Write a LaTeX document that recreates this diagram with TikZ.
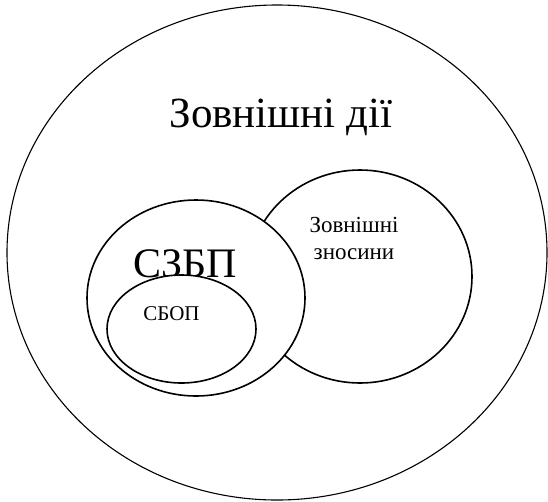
\documentclass[tikz,border=0pt]{standalone}
\usepackage{fontspec}
\setmainfont{Liberation Serif}
\usetikzlibrary{shapes.geometric}

\begin{document}
\begin{tikzpicture}[x=1pt,y=-1pt,
  zone/.style={draw,ellipse,fill=white,inner sep=0pt,line width=1.6pt}]
  \useasboundingbox (0,0) rectangle (548,501);
  \node[zone,line width=1.1pt,minimum width=540pt,minimum height=495pt] (outer) at (277,252.5) {};
  \node[font=\fontsize{43}{48}\selectfont,anchor=base] (outerlbl) at (281,127) {Зовнішні дії};
  \node[zone,minimum width=224pt,minimum height=213pt] (links) at (360,276.5) {};
  \node[font=\fontsize{23}{27}\selectfont,anchor=base] (linkslbl1) at (354,232) {Зовнішні};
  \node[font=\fontsize{23}{27}\selectfont,anchor=base] (linkslbl2) at (354,259) {зносини};
  \node[zone,minimum width=218pt,minimum height=196pt] (szbp) at (196,298) {};
  \node[font=\fontsize{42}{46}\selectfont,anchor=base] (szbplbl) at (185,277) {СЗБП};
  \node[zone,minimum width=149pt,minimum height=108pt] (sbop) at (181.5,329) {};
  \node[font=\fontsize{21}{25}\selectfont,anchor=base] (sboplbl) at (171.5,320) {СБОП};
\end{tikzpicture}
\end{document}
